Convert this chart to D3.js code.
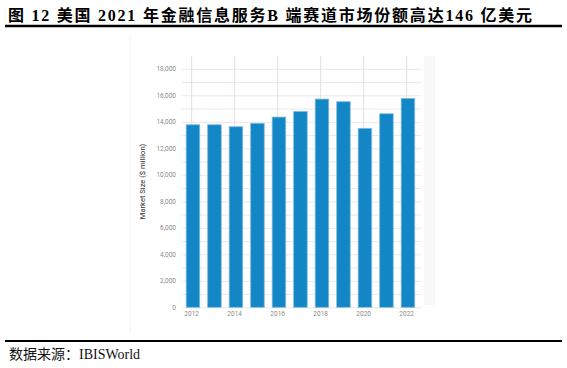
<!DOCTYPE html>
<html>
<head>
<meta charset="utf-8">
<script src="https://cdn.jsdelivr.net/npm/d3@7"></script>
<style>
  body { margin: 0; background: #fff; }
  svg { display: block; }
</style>
</head>
<body>
<div id="chart"></div>
<script>
// data (US market size, $ million)
var years = [2012, 2013, 2014, 2015, 2016, 2017, 2018, 2019, 2020, 2021, 2022]
var marketSize = [13780, 13780, 13630, 13890, 14360, 14790, 15720, 15520, 13510, 14610, 15770]
var yTicks = [0, 2000, 4000, 6000, 8000, 10000, 12000, 14000, 16000, 18000]
var xTickYears = [2012, 2014, 2016, 2018, 2020, 2022]

var titleText = "图 12 美国 2021 年金融信息服务B 端赛道市场份额高达146 亿美元"
var sourceText = "数据来源：IBISWorld"

var W = 567, H = 368

var svg = d3.select("#chart").append("svg")
  .attr("width", W).attr("height", H)

// title + rules
svg.append("text")
  .attr("x", 8).attr("y", 21)
  .attr("font-family", "'Liberation Serif', 'Noto Sans CJK SC', serif")
  .attr("font-weight", "bold")
  .attr("font-size", 16)
  .attr("fill", "#000")
  .attr("textLength", 524)
  .attr("lengthAdjust", "spacing")
  .text(titleText)

svg.append("line").attr("x1", 5).attr("x2", 562).attr("y1", 26).attr("y2", 26)
  .attr("stroke", "#000").attr("stroke-width", 2.5)
svg.append("line").attr("x1", 5).attr("x2", 562).attr("y1", 341).attr("y2", 341)
  .attr("stroke", "#000").attr("stroke-width", 2)

svg.append("text")
  .attr("x", 9).attr("y", 359)
  .attr("font-family", "'Liberation Serif', 'Noto Sans CJK SC', serif")
  .attr("font-size", 14)
  .attr("fill", "#111")
  .text(sourceText)

// faint panel bits from the embedded screenshot
svg.append("line").attr("x1", 130).attr("x2", 130).attr("y1", 34).attr("y2", 332)
  .attr("stroke", "#f3f3f3").attr("stroke-width", 1)
svg.append("rect").attr("x", 424).attr("y", 56).attr("width", 11).attr("height", 249)
  .attr("fill", "#f8f8f8")

// scales  (note: "top" is window.top, so use other names)
var plotLeft = 182, plotRight = 421, plotTop = 55.6, plotBottom = 307.3
var x = d3.scaleBand()
  .domain(years)
  .range([182.2, 418.7])
  .paddingInner(0.37)
  .paddingOuter(0.185)
var y = d3.scaleLinear()
  .domain([0, 19000])
  .range([plotBottom, plotTop])

var g = svg.append("g")

// horizontal grid every 1000
g.selectAll("line.hgrid")
  .data(d3.range(0, 19000, 1000))
  .enter().append("line")
  .attr("class", "hgrid")
  .attr("x1", plotLeft).attr("x2", plotRight)
  .attr("y1", function(d) { return y(d) + 0.5 })
  .attr("y2", function(d) { return y(d) + 0.5 })
  .attr("stroke", "#efe5e7").attr("stroke-width", 1)

// vertical grid at labelled years
g.selectAll("line.vgrid")
  .data(xTickYears)
  .enter().append("line")
  .attr("class", "vgrid")
  .attr("x1", function(d) { return x(d) + x.bandwidth() / 2 - 1.3 })
  .attr("x2", function(d) { return x(d) + x.bandwidth() / 2 - 1.3 })
  .attr("y1", plotTop).attr("y2", plotBottom)
  .attr("stroke", "#e2e0e2").attr("stroke-width", 1)

// bars
g.selectAll("rect.bar")
  .data(years)
  .enter().append("rect")
  .attr("class", "bar")
  .attr("x", function(d) { return x(d) })
  .attr("width", x.bandwidth())
  .attr("y", function(d, i) { return y(marketSize[i]) })
  .attr("height", function(d, i) { return plotBottom - y(marketSize[i]) })
  .attr("fill", "#1386c5")
  .attr("stroke", "#7fbde0")
  .attr("stroke-width", 0.8)

// y axis labels
var yAxis = d3.axisLeft(y)
  .tickValues(yTicks)
  .tickSize(0)
  .tickPadding(0)
  .tickFormat(d3.format(","))
var ya = svg.append("g").attr("transform", "translate(176,0)").call(yAxis)
ya.select(".domain").remove()
ya.selectAll("text")
  .attr("font-family", "Roboto, sans-serif")
  .attr("font-size", 6.5)
  .attr("fill", "#8a8a8a")

// x axis labels
var xAxis = d3.axisBottom(x)
  .tickValues(xTickYears)
  .tickSize(0)
  .tickPadding(0)
var xa = svg.append("g").attr("transform", "translate(-1.3," + (plotBottom + 4) + ")").call(xAxis)
xa.select(".domain").remove()
xa.selectAll("text")
  .attr("font-family", "Roboto, sans-serif")
  .attr("font-size", 6.5)
  .attr("fill", "#8a8a8a")

// y axis title
svg.append("text")
  .attr("transform", "translate(144.5,181.5) rotate(-90)")
  .attr("text-anchor", "middle")
  .attr("font-family", "Roboto, sans-serif")
  .attr("font-size", 7.6)
  .attr("fill", "#333")
  .text("Market Size ($ million)")
</script>
</body>
</html>
